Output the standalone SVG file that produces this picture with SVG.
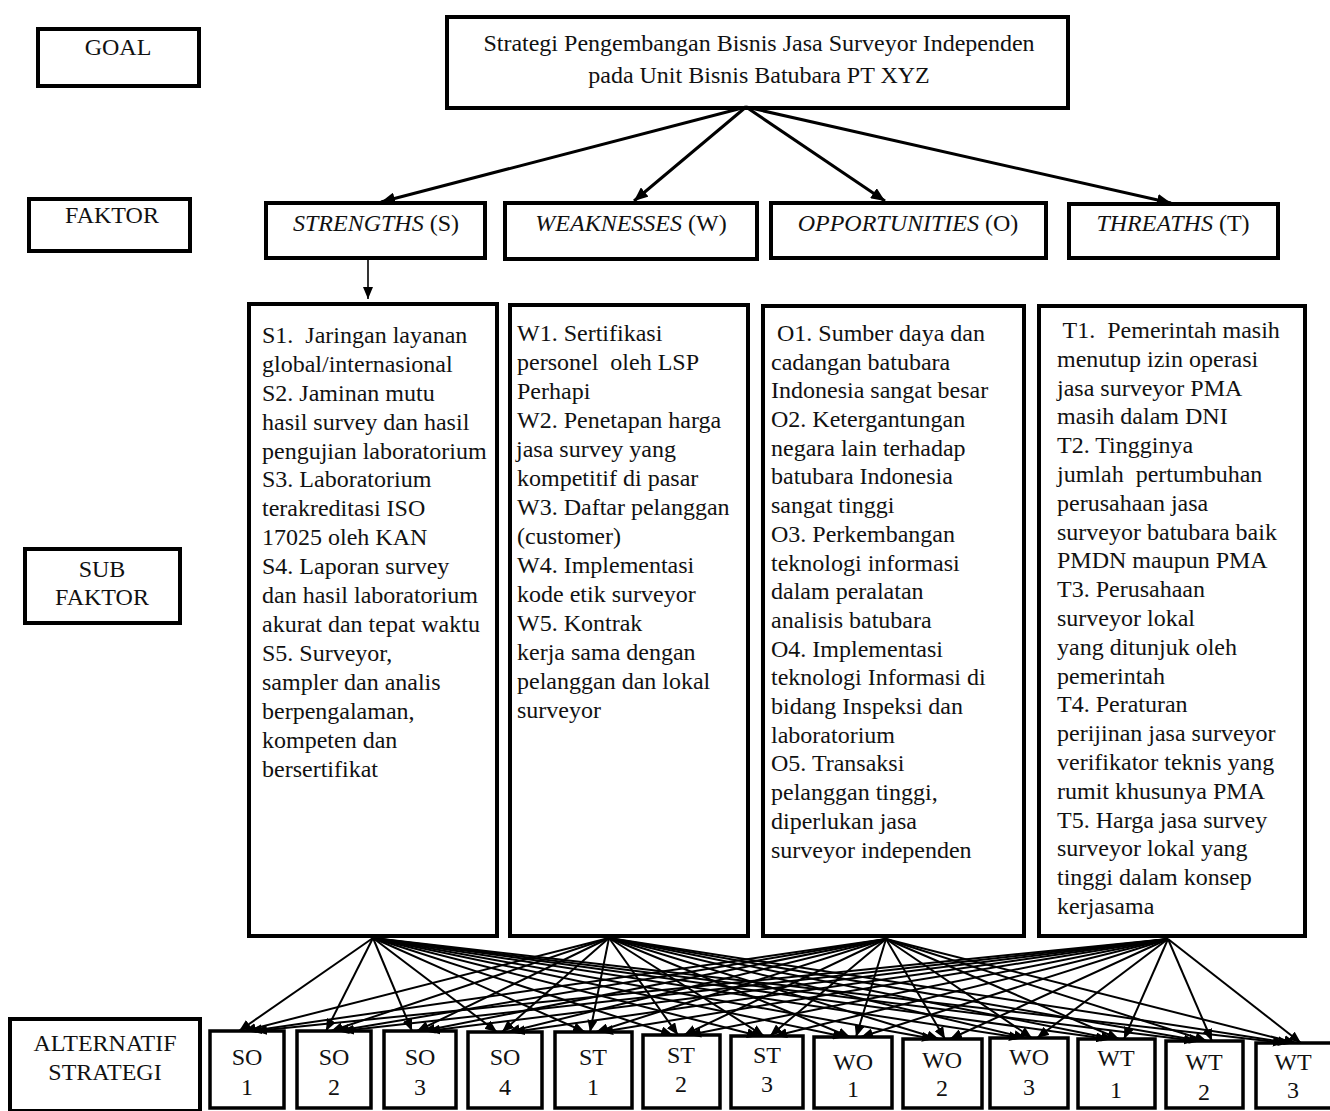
<svg xmlns="http://www.w3.org/2000/svg" width="1330" height="1111" viewBox="0 0 1330 1111">
<style>
text{font-family:"Liberation Serif","Times New Roman",serif;font-size:24px;fill:#111;white-space:pre}
.box{fill:#fff;stroke:#000;stroke-width:4}
.sbox{fill:#fff;stroke:#000;stroke-width:3.5}
.c{text-anchor:middle}
.it{font-style:italic}
.top{stroke:#000;stroke-width:3;fill:none}
.conn path{stroke:#000;stroke-width:2;fill:none}
</style>
<defs>
<marker id="ah" markerUnits="userSpaceOnUse" markerWidth="14" markerHeight="12" refX="14" refY="6" orient="auto">
<path d="M0,0 L14,6 L0,12 z" fill="#000"/>
</marker>
<marker id="as" markerUnits="userSpaceOnUse" markerWidth="12" markerHeight="10" refX="12" refY="5" orient="auto">
<path d="M0,0 L12,5 L0,10 z" fill="#000"/>
</marker>
</defs>

<g id="label-goal"><rect class="box" x="38" y="29" width="161" height="57"/><text class="c" x="118" y="55">GOAL</text></g>
<g id="label-faktor"><rect class="box" x="29" y="199" width="161" height="52"/><text class="c" x="112" y="223">FAKTOR</text></g>
<g id="label-subfaktor"><rect class="box" x="25" y="549" width="155" height="74"/><text class="c" x="102" y="577">SUB</text><text class="c" x="102" y="605">FAKTOR</text></g>
<g id="label-alternatif"><rect class="box" x="10" y="1019" width="190" height="92"/><text class="c" x="105" y="1051">ALTERNATIF</text><text class="c" x="105" y="1080">STRATEGI</text></g>

<g id="goal"><rect class="box" x="447" y="17" width="621" height="91"/><text class="c" x="759" y="51">Strategi Pengembangan Bisnis Jasa Surveyor Independen</text><text class="c" x="759" y="83">pada Unit Bisnis Batubara PT XYZ</text></g>

<g id="f-s"><rect class="box" x="266" y="203" width="219" height="55"/><text class="c" x="376" y="231"><tspan class="it">STRENGTHS</tspan> (S)</text></g>
<g id="f-w"><rect class="box" x="505" y="203" width="252" height="56"/><text class="c" x="631" y="231"><tspan class="it">WEAKNESSES</tspan> (W)</text></g>
<g id="f-o"><rect class="box" x="771" y="203" width="275" height="55"/><text class="c" x="908" y="231"><tspan class="it">OPPORTUNITIES</tspan> (O)</text></g>
<g id="f-t"><rect class="box" x="1069" y="204" width="209" height="54"/><text class="c" x="1173" y="231"><tspan class="it">THREATHS</tspan> (T)</text></g>

<g id="sub-s"><rect class="box" x="249" y="304" width="248" height="632"/>
<text x="262" y="343">S1.  Jaringan layanan</text>
<text x="262" y="372">global/internasional</text>
<text x="262" y="401">S2. Jaminan mutu</text>
<text x="262" y="430">hasil survey dan hasil</text>
<text x="262" y="459">pengujian laboratorium</text>
<text x="262" y="487">S3. Laboratorium</text>
<text x="262" y="516">terakreditasi ISO</text>
<text x="262" y="545">17025 oleh KAN</text>
<text x="262" y="574">S4. Laporan survey</text>
<text x="262" y="603">dan hasil laboratorium</text>
<text x="262" y="632">akurat dan tepat waktu</text>
<text x="262" y="661">S5. Surveyor,</text>
<text x="262" y="690">sampler dan analis</text>
<text x="262" y="719">berpengalaman,</text>
<text x="262" y="748">kompeten dan</text>
<text x="262" y="777">bersertifikat</text>
</g>

<g id="sub-w"><rect class="box" x="510" y="305" width="238" height="631"/>
<text x="517" y="341">W1. Sertifikasi</text>
<text x="517" y="370">personel  oleh LSP</text>
<text x="517" y="399">Perhapi</text>
<text x="517" y="428">W2. Penetapan harga</text>
<text x="516" y="457">jasa survey yang</text>
<text x="517" y="486">kompetitif di pasar</text>
<text x="517" y="515">W3. Daftar pelanggan</text>
<text x="517" y="544">(customer)</text>
<text x="517" y="573">W4. Implementasi</text>
<text x="517" y="602">kode etik surveyor</text>
<text x="517" y="631">W5. Kontrak</text>
<text x="517" y="660">kerja sama dengan</text>
<text x="517" y="689">pelanggan dan lokal</text>
<text x="517" y="718">surveyor</text>
</g>

<g id="sub-o"><rect class="box" x="763" y="306" width="261" height="630"/>
<text x="771" y="341"> O1. Sumber daya dan</text>
<text x="771" y="370">cadangan batubara</text>
<text x="771" y="398">Indonesia sangat besar</text>
<text x="771" y="427">O2. Ketergantungan</text>
<text x="771" y="456">negara lain terhadap</text>
<text x="771" y="484">batubara Indonesia</text>
<text x="771" y="513">sangat tinggi</text>
<text x="771" y="542">O3. Perkembangan</text>
<text x="771" y="571">teknologi informasi</text>
<text x="771" y="599">dalam peralatan</text>
<text x="771" y="628">analisis batubara</text>
<text x="771" y="657">O4. Implementasi</text>
<text x="771" y="685">teknologi Informasi di</text>
<text x="771" y="714">bidang Inspeksi dan</text>
<text x="771" y="743">laboratorium</text>
<text x="771" y="771">O5. Transaksi</text>
<text x="771" y="800">pelanggan tinggi,</text>
<text x="771" y="829">diperlukan jasa</text>
<text x="771" y="858">surveyor independen</text>
</g>

<g id="sub-t"><rect class="box" x="1039" y="306" width="266" height="630"/>
<text x="1057" y="338"> T1.  Pemerintah masih</text>
<text x="1057" y="367">menutup izin operasi</text>
<text x="1057" y="396">jasa surveyor PMA</text>
<text x="1057" y="424">masih dalam DNI</text>
<text x="1057" y="453">T2. Tingginya</text>
<text x="1057" y="482">jumlah  pertumbuhan</text>
<text x="1057" y="511">perusahaan jasa</text>
<text x="1057" y="540">surveyor batubara baik</text>
<text x="1057" y="568">PMDN maupun PMA</text>
<text x="1057" y="597">T3. Perusahaan</text>
<text x="1057" y="626">surveyor lokal</text>
<text x="1057" y="655">yang ditunjuk oleh</text>
<text x="1057" y="684">pemerintah</text>
<text x="1057" y="712">T4. Peraturan</text>
<text x="1057" y="741">perijinan jasa surveyor</text>
<text x="1057" y="770">verifikator teknis yang</text>
<text x="1057" y="799">rumit khusunya PMA</text>
<text x="1057" y="828">T5. Harga jasa survey</text>
<text x="1057" y="856">surveyor lokal yang</text>
<text x="1057" y="885">tinggi dalam konsep</text>
<text x="1057" y="914">kerjasama</text>
</g>

<g id="alt-so1"><rect class="sbox" x="210" y="1031" width="74" height="77"/><text class="c" x="247" y="1065">SO</text><text class="c" x="247" y="1095">1</text></g>
<g id="alt-so2"><rect class="sbox" x="297" y="1031" width="74" height="77"/><text class="c" x="334" y="1065">SO</text><text class="c" x="334" y="1095">2</text></g>
<g id="alt-so3"><rect class="sbox" x="384" y="1031" width="72" height="77"/><text class="c" x="420" y="1065">SO</text><text class="c" x="420" y="1095">3</text></g>
<g id="alt-so4"><rect class="sbox" x="468" y="1032" width="74" height="76"/><text class="c" x="505" y="1065">SO</text><text class="c" x="505" y="1095">4</text></g>
<g id="alt-st1"><rect class="sbox" x="555" y="1032" width="77" height="76"/><text class="c" x="593" y="1065">ST</text><text class="c" x="593" y="1095">1</text></g>
<g id="alt-st2"><rect class="sbox" x="643" y="1035" width="77" height="73"/><text class="c" x="681" y="1063">ST</text><text class="c" x="681" y="1092">2</text></g>
<g id="alt-st3"><rect class="sbox" x="731" y="1036" width="72" height="72"/><text class="c" x="767" y="1063">ST</text><text class="c" x="767" y="1092">3</text></g>
<g id="alt-wo1"><rect class="sbox" x="814" y="1037" width="78" height="71"/><text class="c" x="853" y="1070">WO</text><text class="c" x="853" y="1097">1</text></g>
<g id="alt-wo2"><rect class="sbox" x="903" y="1039" width="79" height="69"/><text class="c" x="942" y="1068">WO</text><text class="c" x="942" y="1096">2</text></g>
<g id="alt-wo3"><rect class="sbox" x="990" y="1038" width="78" height="70"/><text class="c" x="1029" y="1065">WO</text><text class="c" x="1029" y="1095">3</text></g>
<g id="alt-wt1"><rect class="sbox" x="1078" y="1039" width="77" height="69"/><text class="c" x="1116" y="1066">WT</text><text class="c" x="1116" y="1098">1</text></g>
<g id="alt-wt2"><rect class="sbox" x="1166" y="1041" width="77" height="67"/><text class="c" x="1204" y="1070">WT</text><text class="c" x="1204" y="1100">2</text></g>
<g id="alt-wt3"><rect class="sbox" x="1256" y="1043" width="78" height="65"/><text class="c" x="1293" y="1070">WT</text><text class="c" x="1293" y="1098">3</text></g>

<g id="connectors">
<g class="top-arrows">
<path class="top" d="M746 107 L381 202" marker-end="url(#ah)"/>
<path class="top" d="M746 107 L634 201" marker-end="url(#ah)"/>
<path class="top" d="M746 107 L885 201" marker-end="url(#ah)"/>
<path class="top" d="M746 107 L1171 203" marker-end="url(#ah)"/>
<path d="M368 260 L368 299" stroke="#000" stroke-width="1.6" fill="none" marker-end="url(#as)"/>
</g>
<g class="conn">
<path d="M373 938 L239 1031" marker-end="url(#as)"/>
<path d="M373 938 L326 1031" marker-end="url(#as)"/>
<path d="M373 938 L412 1031" marker-end="url(#as)"/>
<path d="M373 938 L497 1032" marker-end="url(#as)"/>
<path d="M373 938 L585 1032" marker-end="url(#as)"/>
<path d="M373 938 L673 1035" marker-end="url(#as)"/>
<path d="M373 938 L759 1036" marker-end="url(#as)"/>
<path d="M373 938 L845 1037" marker-end="url(#as)"/>
<path d="M373 938 L934 1039" marker-end="url(#as)"/>
<path d="M373 938 L1021 1038" marker-end="url(#as)"/>
<path d="M373 938 L1108 1039" marker-end="url(#as)"/>
<path d="M373 938 L1196 1041" marker-end="url(#as)"/>
<path d="M373 938 L1285 1043" marker-end="url(#as)"/>
<path d="M609 938 L244 1031" marker-end="url(#as)"/>
<path d="M609 938 L331 1031" marker-end="url(#as)"/>
<path d="M609 938 L417 1031" marker-end="url(#as)"/>
<path d="M609 938 L502 1032" marker-end="url(#as)"/>
<path d="M609 938 L590 1032" marker-end="url(#as)"/>
<path d="M609 938 L678 1035" marker-end="url(#as)"/>
<path d="M609 938 L764 1036" marker-end="url(#as)"/>
<path d="M609 938 L850 1037" marker-end="url(#as)"/>
<path d="M609 938 L939 1039" marker-end="url(#as)"/>
<path d="M609 938 L1026 1038" marker-end="url(#as)"/>
<path d="M609 938 L1113 1039" marker-end="url(#as)"/>
<path d="M609 938 L1201 1041" marker-end="url(#as)"/>
<path d="M609 938 L1290 1043" marker-end="url(#as)"/>
<path d="M886 939 L250 1031" marker-end="url(#as)"/>
<path d="M886 939 L337 1031" marker-end="url(#as)"/>
<path d="M886 939 L423 1031" marker-end="url(#as)"/>
<path d="M886 939 L508 1032" marker-end="url(#as)"/>
<path d="M886 939 L596 1032" marker-end="url(#as)"/>
<path d="M886 939 L684 1035" marker-end="url(#as)"/>
<path d="M886 939 L770 1036" marker-end="url(#as)"/>
<path d="M886 939 L856 1037" marker-end="url(#as)"/>
<path d="M886 939 L945 1039" marker-end="url(#as)"/>
<path d="M886 939 L1032 1038" marker-end="url(#as)"/>
<path d="M886 939 L1119 1039" marker-end="url(#as)"/>
<path d="M886 939 L1207 1041" marker-end="url(#as)"/>
<path d="M886 939 L1296 1043" marker-end="url(#as)"/>
<path d="M1168 939 L255 1031" marker-end="url(#as)"/>
<path d="M1168 939 L342 1031" marker-end="url(#as)"/>
<path d="M1168 939 L428 1031" marker-end="url(#as)"/>
<path d="M1168 939 L513 1032" marker-end="url(#as)"/>
<path d="M1168 939 L601 1032" marker-end="url(#as)"/>
<path d="M1168 939 L689 1035" marker-end="url(#as)"/>
<path d="M1168 939 L775 1036" marker-end="url(#as)"/>
<path d="M1168 939 L861 1037" marker-end="url(#as)"/>
<path d="M1168 939 L950 1039" marker-end="url(#as)"/>
<path d="M1168 939 L1037 1038" marker-end="url(#as)"/>
<path d="M1168 939 L1124 1039" marker-end="url(#as)"/>
<path d="M1168 939 L1212 1041" marker-end="url(#as)"/>
<path d="M1168 939 L1301 1043" marker-end="url(#as)"/>
</g>
</g>
</svg>
